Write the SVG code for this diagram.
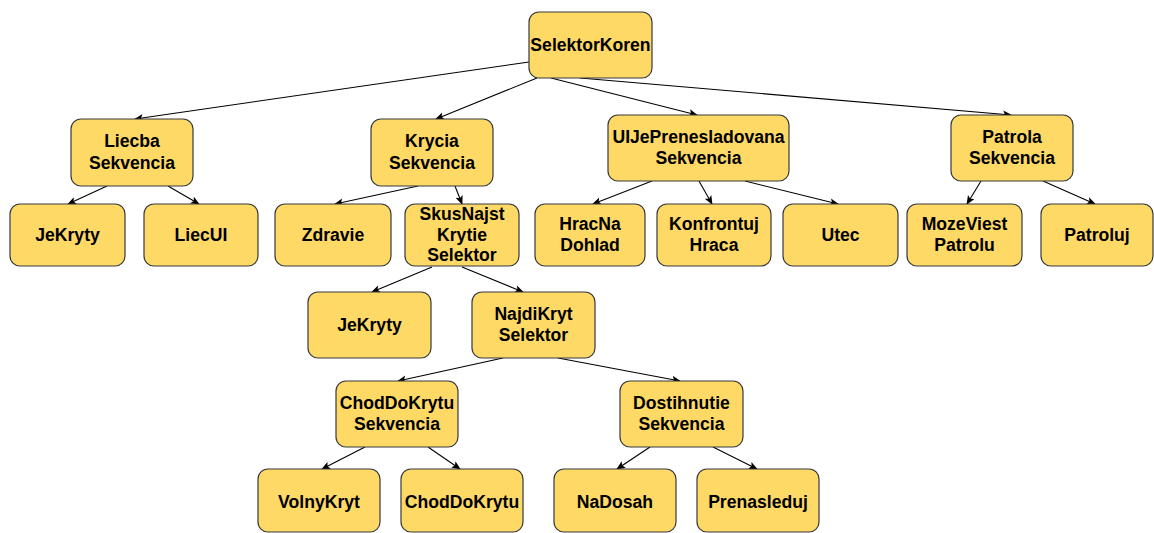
<svg xmlns="http://www.w3.org/2000/svg" width="1154" height="533" viewBox="0 0 1154 533">
  <style>
    .node rect { fill: #FFD966; stroke: #36393D; stroke-width: 1.2; }
    .node text { font-family: "Liberation Sans", Arial, Helvetica, sans-serif; font-weight: bold; font-size: 17.6px; fill: #000; text-anchor: middle; }
    .edges line { stroke: #000; stroke-width: 1.1; marker-end: url(#arrow); }
  </style>
  <defs>
    <marker id="arrow" viewBox="0 0 10 10" refX="9" refY="5" markerWidth="9" markerHeight="9" markerUnits="userSpaceOnUse" orient="auto">
      <path d="M0,0.8 L10,5 L0,9.2 L2.2,5 Z" fill="#000"/>
    </marker>
  </defs>
  <rect width="1154" height="533" fill="#fff"/>

  <g class="edges" id="connectors">
    <!-- root -->
    <line x1="529" y1="62" x2="135" y2="119"/>
    <line x1="537" y1="78" x2="436" y2="119"/>
    <line x1="551" y1="78" x2="697" y2="115"/>
    <line x1="580" y1="78" x2="1011" y2="115"/>
    <!-- Liecba -->
    <line x1="107" y1="186" x2="68" y2="204"/>
    <line x1="168" y1="186" x2="199" y2="204"/>
    <!-- Krycia -->
    <line x1="418" y1="186" x2="335" y2="204"/>
    <line x1="455" y1="186" x2="462" y2="204"/>
    <!-- UIJePrenasledovana -->
    <line x1="652" y1="181" x2="593" y2="204"/>
    <line x1="699" y1="181" x2="712" y2="204"/>
    <line x1="745" y1="181" x2="838" y2="204"/>
    <!-- Patrola -->
    <line x1="981" y1="181" x2="967" y2="204"/>
    <line x1="1043" y1="181" x2="1095" y2="204"/>
    <!-- SkusNajst -->
    <line x1="432" y1="267" x2="372" y2="292"/>
    <line x1="462" y1="267" x2="523" y2="292"/>
    <!-- NajdiKryt -->
    <line x1="503" y1="358" x2="398" y2="381"/>
    <line x1="558" y1="358" x2="680" y2="381"/>
    <!-- ChodDoKrytu Sekvencia -->
    <line x1="365" y1="447" x2="322" y2="469"/>
    <line x1="428" y1="447" x2="460" y2="469"/>
    <!-- Dostihnutie -->
    <line x1="650" y1="447" x2="617" y2="469"/>
    <line x1="713" y1="447" x2="757" y2="469"/>
  </g>

  <g class="node" id="selektor-koren">
    <rect x="529" y="12" width="123" height="66" rx="10"/>
    <text x="590.5" y="51">SelektorKoren</text>
  </g>

  <g class="node" id="liecba-sekvencia">
    <rect x="71" y="119" width="122" height="67" rx="10"/>
    <text x="132" y="147">Liecba</text>
    <text x="132" y="168.5">Sekvencia</text>
  </g>
  <g class="node" id="je-kryty-1">
    <rect x="10" y="204" width="115" height="62" rx="10"/>
    <text x="67.5" y="241">JeKryty</text>
  </g>
  <g class="node" id="liec-ui">
    <rect x="144" y="204" width="114" height="62" rx="10"/>
    <text x="201" y="241">LiecUI</text>
  </g>

  <g class="node" id="krycia-sekvencia">
    <rect x="371" y="119" width="122" height="67" rx="10"/>
    <text x="432" y="147">Krycia</text>
    <text x="432" y="168.5">Sekvencia</text>
  </g>
  <g class="node" id="zdravie">
    <rect x="275" y="204" width="116" height="62" rx="10"/>
    <text x="333" y="241">Zdravie</text>
  </g>
  <g class="node" id="skus-najst-krytie-selektor">
    <rect x="405" y="204" width="114" height="62" rx="10"/>
    <text x="462" y="220">SkusNajst</text>
    <text x="462" y="240.5">Krytie</text>
    <text x="462" y="261">Selektor</text>
  </g>

  <g class="node" id="ui-je-prenasledovana-sekvencia">
    <rect x="608" y="115" width="181" height="66" rx="10"/>
    <text x="698.5" y="143">UIJePrenesladovana</text>
    <text x="698.5" y="164">Sekvencia</text>
  </g>
  <g class="node" id="hrac-na-dohlad">
    <rect x="535" y="204" width="110" height="62" rx="10"/>
    <text x="590" y="230">HracNa</text>
    <text x="590" y="251">Dohlad</text>
  </g>
  <g class="node" id="konfrontuj-hraca">
    <rect x="657" y="204" width="114" height="62" rx="10"/>
    <text x="714" y="230">Konfrontuj</text>
    <text x="714" y="251">Hraca</text>
  </g>
  <g class="node" id="utec">
    <rect x="783" y="204" width="115" height="62" rx="10"/>
    <text x="840.5" y="241">Utec</text>
  </g>

  <g class="node" id="patrola-sekvencia">
    <rect x="951" y="115" width="122" height="66" rx="10"/>
    <text x="1012" y="143">Patrola</text>
    <text x="1012" y="164">Sekvencia</text>
  </g>
  <g class="node" id="moze-viest-patrolu">
    <rect x="907" y="204" width="115" height="62" rx="10"/>
    <text x="964.5" y="230">MozeViest</text>
    <text x="964.5" y="251">Patrolu</text>
  </g>
  <g class="node" id="patroluj">
    <rect x="1041" y="204" width="112" height="62" rx="10"/>
    <text x="1097" y="241">Patroluj</text>
  </g>

  <g class="node" id="je-kryty-2">
    <rect x="308" y="292" width="123" height="66" rx="10"/>
    <text x="369.5" y="331">JeKryty</text>
  </g>
  <g class="node" id="najdi-kryt-selektor">
    <rect x="472" y="292" width="123" height="66" rx="10"/>
    <text x="533.5" y="320">NajdiKryt</text>
    <text x="533.5" y="341">Selektor</text>
  </g>

  <g class="node" id="chod-do-krytu-sekvencia">
    <rect x="336" y="381" width="122" height="66" rx="10"/>
    <text x="397" y="409">ChodDoKrytu</text>
    <text x="397" y="430">Sekvencia</text>
  </g>
  <g class="node" id="dostihnutie-sekvencia">
    <rect x="620" y="381" width="123" height="66" rx="10"/>
    <text x="681.5" y="409">Dostihnutie</text>
    <text x="681.5" y="430">Sekvencia</text>
  </g>

  <g class="node" id="volny-kryt">
    <rect x="258" y="469" width="122" height="63" rx="10"/>
    <text x="319" y="508">VolnyKryt</text>
  </g>
  <g class="node" id="chod-do-krytu">
    <rect x="401" y="469" width="122" height="63" rx="10"/>
    <text x="462" y="508">ChodDoKrytu</text>
  </g>
  <g class="node" id="na-dosah">
    <rect x="554" y="469" width="122" height="63" rx="10"/>
    <text x="615" y="508">NaDosah</text>
  </g>
  <g class="node" id="prenasleduj">
    <rect x="697" y="469" width="122" height="63" rx="10"/>
    <text x="758" y="508">Prenasleduj</text>
  </g>
</svg>
